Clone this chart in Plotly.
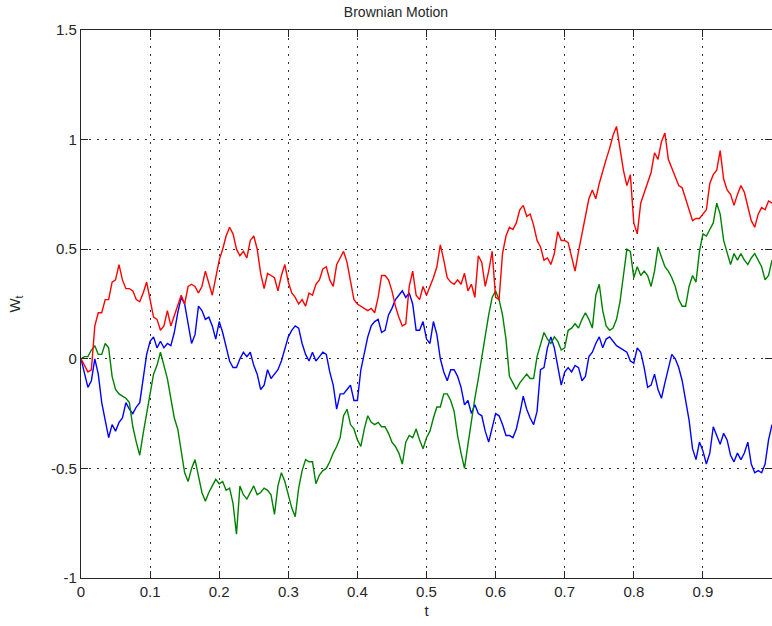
import numpy as np
import plotly.graph_objects as go

# Sample times: 201 points on [0, 1]
n_steps = 200
t = np.arange(n_steps + 1) / n_steps

# Three sample paths of W_t
w_red = [
    0.0, -0.03, -0.06, -0.05, 0.15, 0.21, 0.21, 0.27, 0.27, 0.35,
    0.36, 0.43, 0.36, 0.32, 0.32, 0.31, 0.27, 0.26, 0.30, 0.35,
    0.27, 0.19, 0.18, 0.13, 0.15, 0.22, 0.15, 0.20, 0.24, 0.29,
    0.25, 0.33, 0.34, 0.33, 0.30, 0.33, 0.40, 0.35, 0.29, 0.37,
    0.45, 0.50, 0.56, 0.60, 0.57, 0.50, 0.47, 0.49, 0.46, 0.54,
    0.56, 0.50, 0.39, 0.32, 0.39, 0.38, 0.37, 0.31, 0.38, 0.43,
    0.35, 0.30, 0.28, 0.25, 0.27, 0.24, 0.30, 0.29, 0.34, 0.36,
    0.41, 0.42, 0.36, 0.33, 0.43, 0.46, 0.49, 0.44, 0.35, 0.27,
    0.25, 0.24, 0.23, 0.22, 0.23, 0.21, 0.28, 0.38, 0.38, 0.36,
    0.31, 0.24, 0.19, 0.15, 0.16, 0.33, 0.40, 0.29, 0.27, 0.33,
    0.29, 0.33, 0.37, 0.42, 0.52, 0.45, 0.37, 0.35, 0.34, 0.36,
    0.34, 0.39, 0.31, 0.34, 0.28, 0.47, 0.44, 0.33, 0.40, 0.49,
    0.28, 0.27, 0.48, 0.56, 0.60, 0.59, 0.62, 0.68, 0.70, 0.65,
    0.66, 0.61, 0.54, 0.51, 0.45, 0.46, 0.43, 0.48, 0.58, 0.54,
    0.54, 0.53, 0.47, 0.40, 0.49, 0.57, 0.64, 0.73, 0.77, 0.73,
    0.80, 0.86, 0.91, 0.96, 1.02, 1.06, 0.97, 0.86, 0.79, 0.84,
    0.62, 0.57, 0.71, 0.76, 0.80, 0.85, 0.94, 0.91, 0.99, 1.03,
    0.91, 0.87, 0.83, 0.79, 0.78, 0.73, 0.67, 0.63, 0.64, 0.64,
    0.66, 0.68, 0.80, 0.84, 0.86, 0.95, 0.82, 0.77, 0.75, 0.70,
    0.75, 0.79, 0.76, 0.69, 0.63, 0.60, 0.66, 0.69, 0.68, 0.72,
    0.71,
]

w_blue = [
    0.0, -0.07, -0.13, -0.10, 0.0, -0.07, -0.20, -0.28, -0.36, -0.30,
    -0.33, -0.29, -0.27, -0.20, -0.23, -0.25, -0.22, -0.20, -0.08, 0.02,
    0.08, 0.10, 0.05, 0.08, 0.05, 0.07, 0.06, 0.12, 0.21, 0.28,
    0.25, 0.15, 0.07, 0.11, 0.24, 0.22, 0.18, 0.19, 0.15, 0.09,
    0.17, 0.12, 0.05, -0.01, -0.04, -0.04, 0.0, 0.03, 0.01, 0.03,
    -0.03, -0.07, -0.14, -0.12, -0.05, -0.09, -0.07, -0.05, -0.01, 0.04,
    0.10, 0.13, 0.15, 0.14, 0.07, 0.02, -0.01, 0.03, -0.01, 0.01,
    0.03, 0.02, -0.06, -0.12, -0.23, -0.16, -0.16, -0.14, -0.12, -0.19,
    -0.19, -0.05, 0.03, 0.10, 0.15, 0.17, 0.18, 0.12, 0.13, 0.20,
    0.23, 0.27, 0.29, 0.31, 0.28, 0.30, 0.25, 0.13, 0.13, 0.17,
    0.09, 0.07, 0.17, 0.11, 0.0, -0.06, -0.10, -0.05, -0.05, -0.08,
    -0.13, -0.21, -0.19, -0.25, -0.21, -0.25, -0.26, -0.33, -0.38, -0.31,
    -0.25, -0.26, -0.30, -0.35, -0.35, -0.36, -0.32, -0.25, -0.17, -0.23,
    -0.27, -0.30, -0.24, -0.05, -0.04, 0.05, 0.10, 0.05, -0.04, -0.12,
    -0.06, -0.04, -0.06, -0.03, -0.04, -0.10, -0.08, 0.01, 0.03, 0.07,
    0.10, 0.05, 0.09, 0.10, 0.08, 0.06, 0.05, 0.04, 0.03, -0.01,
    -0.02, 0.05, 0.03, -0.04, -0.13, -0.12, -0.07, -0.14, -0.18, -0.11,
    -0.05, 0.02, 0.0, -0.04, -0.10, -0.19, -0.28, -0.41, -0.46, -0.38,
    -0.42, -0.48, -0.43, -0.31, -0.35, -0.39, -0.34, -0.37, -0.44, -0.47,
    -0.43, -0.46, -0.43, -0.38, -0.48, -0.52, -0.51, -0.52, -0.48, -0.37,
    -0.30,
]

w_green = [
    0.0, 0.01, 0.01, 0.04, 0.06, 0.02, 0.02, 0.07, 0.05, -0.08,
    -0.14, -0.16, -0.17, -0.18, -0.20, -0.31, -0.38, -0.44, -0.34, -0.24,
    -0.16, -0.07, -0.03, 0.03, -0.03, -0.09, -0.18, -0.27, -0.32, -0.42,
    -0.52, -0.56, -0.50, -0.46, -0.53, -0.61, -0.65, -0.61, -0.58, -0.55,
    -0.57, -0.56, -0.60, -0.59, -0.66, -0.80, -0.58, -0.62, -0.64, -0.61,
    -0.58, -0.62, -0.61, -0.59, -0.60, -0.62, -0.71, -0.58, -0.52, -0.56,
    -0.62, -0.68, -0.72, -0.59, -0.51, -0.46, -0.47, -0.47, -0.57, -0.53,
    -0.51, -0.50, -0.47, -0.43, -0.40, -0.36, -0.26, -0.23, -0.30, -0.32,
    -0.37, -0.40, -0.32, -0.26, -0.29, -0.30, -0.29, -0.31, -0.31, -0.34,
    -0.38, -0.40, -0.43, -0.48, -0.38, -0.35, -0.36, -0.32, -0.37, -0.41,
    -0.36, -0.33, -0.27, -0.22, -0.22, -0.16, -0.16, -0.19, -0.24, -0.35,
    -0.43, -0.50, -0.39, -0.28, -0.18, -0.09, 0.01, 0.11, 0.20, 0.28,
    0.31, 0.27, 0.20, 0.09, -0.08, -0.11, -0.14, -0.11, -0.09, -0.07,
    -0.09, -0.09, 0.01, 0.07, 0.12, 0.09, 0.07, 0.10, 0.08, 0.04,
    0.05, 0.13, 0.14, 0.16, 0.14, 0.18, 0.21, 0.18, 0.14, 0.29,
    0.34, 0.22, 0.15, 0.13, 0.14, 0.18, 0.26, 0.38, 0.50, 0.49,
    0.37, 0.42, 0.38, 0.40, 0.38, 0.33, 0.40, 0.51, 0.46, 0.42,
    0.40, 0.37, 0.33, 0.27, 0.24, 0.24, 0.33, 0.38, 0.35, 0.49,
    0.57, 0.56, 0.59, 0.62, 0.71, 0.66, 0.54, 0.48, 0.43, 0.48,
    0.45, 0.48, 0.45, 0.43, 0.46, 0.48, 0.45, 0.42, 0.36, 0.38,
    0.45,
]

x_tickvals = [0, 0.1, 0.2, 0.3, 0.4, 0.5, 0.6, 0.7, 0.8, 0.9]
x_ticktext = ["0", "0.1", "0.2", "0.3", "0.4", "0.5", "0.6", "0.7", "0.8", "0.9"]
y_tickvals = [-1, -0.5, 0, 0.5, 1, 1.5]
y_ticktext = ["-1", "-0.5", "0", "0.5", "1", "1.5"]

FONT = "Liberation Sans, Arial, Helvetica, sans-serif"

fig = go.Figure()
for values, color in [(w_blue, "#0000ff"), (w_green, "#008000"), (w_red, "#ff0000")]:
    fig.add_trace(go.Scatter(
        x=t, y=values, mode="lines",
        line=dict(color=color, width=1.4),
        showlegend=False, hoverinfo="skip",
    ))

axis_common = dict(
    showline=True, linecolor="#262626", linewidth=1.3,
    mirror="ticks", ticks="inside", ticklen=7, tickwidth=1.3, tickcolor="#262626",
    showgrid=True, gridcolor="#333333", gridwidth=1, griddash="2px,6px",
    zeroline=False,
    tickfont=dict(family=FONT, size=15, color="#262626"),
)

fig.update_layout(
    width=772, height=626,
    margin=dict(l=81, r=0, t=30, b=48),
    paper_bgcolor="white", plot_bgcolor="white",
    font=dict(family=FONT, size=15, color="#262626"),
    title=dict(text="Brownian Motion", x=396 / 772, xanchor="center",
               y=1 - 12 / 626, yanchor="middle",
               font=dict(family=FONT, size=14, color="#262626")),
    xaxis=dict(range=[0, 1], tickvals=x_tickvals, ticktext=x_ticktext,
               title=dict(text="t", standoff=6,
                          font=dict(family=FONT, size=15, color="#262626")),
               **axis_common),
    yaxis=dict(range=[-1, 1.5], tickvals=y_tickvals, ticktext=y_ticktext,
               title=dict(text="W<sub>t</sub>", standoff=26,
                          font=dict(family=FONT, size=15, color="#262626")),
               **axis_common),
)

fig.write_html("out.html")
